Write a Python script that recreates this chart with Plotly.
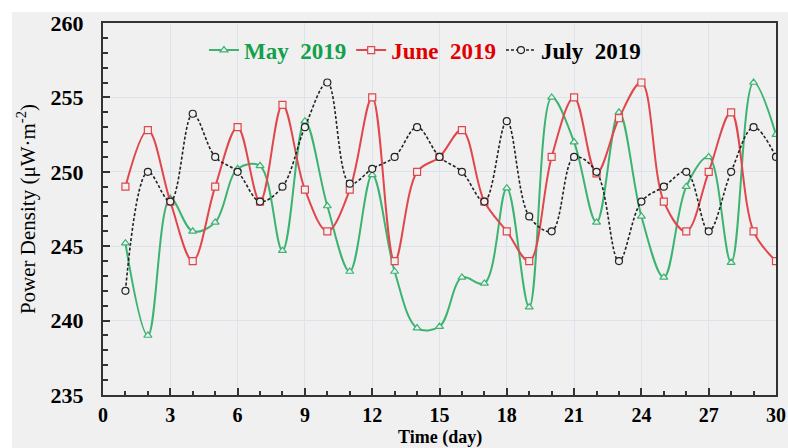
import plotly.graph_objects as go

# Daily power density readings for three months of 2019
days = list(range(1, 31))

may_2019 = [245.2, 239.0, 248.2, 246.0, 246.6, 250.2, 250.4, 244.7, 253.4, 247.7,
            243.3, 249.8, 243.3, 239.5, 239.6, 242.9, 242.5, 248.9, 240.9, 255.0,
            252.0, 246.6, 254.0, 247.0, 242.9, 249.0, 251.0, 243.9, 256.0, 252.5]

june_2019 = [249.0, 252.8, 248.0, 244.0, 249.0, 253.0, 248.0, 254.5, 248.8, 246.0,
             248.8, 255.0, 244.0, 250.0, 251.0, 252.8, 248.0, 246.0, 244.0, 251.0,
             255.0, 249.9, 253.6, 256.0, 248.0, 246.0, 250.0, 254.0, 246.0, 244.0]

july_2019 = [242.0, 250.0, 248.0, 253.9, 251.0, 250.0, 248.0, 249.0, 253.0, 256.0,
             249.2, 250.2, 251.0, 253.0, 251.0, 250.0, 248.0, 253.4, 247.0, 246.0,
             251.0, 250.0, 244.0, 248.0, 249.0, 250.0, 246.0, 250.0, 253.0, 251.0]

x_ticks = [0, 3, 6, 9, 12, 15, 18, 21, 24, 27, 30]
y_ticks = [235, 240, 245, 250, 255, 260]

BG = "#f0f0f0"
SERIF = "Liberation Serif, Times New Roman, serif"
NB = "\u00a0"

# plot area in pixels (figure is 788 x 448)
PL, PR, PT, PB = 103, 776, 23, 395
PW, PH = PR - PL, PB - PT

series = [
    ("May", may_2019, "#3cb371", "#12a04a", "triangle-up", "solid", 2),
    ("June", june_2019, "#e0474c", "#e00000", "square", "solid", 2),
    ("July", july_2019, "#222222", "#000000", "circle", "3px,2px", 1.6),
]

fig = go.Figure()
for month, values, line_color, text_color, symbol, dash, width in series:
    fig.add_trace(go.Scatter(
        x=days, y=values,
        mode="lines+markers",
        name=f"<span style='color:{text_color}'>{month}{NB}{NB}2019</span>",
        line=dict(color=line_color, width=width, dash=dash, shape="spline", smoothing=1.0),
        marker=dict(symbol=symbol, size=7, color=BG,
                    line=dict(color=line_color, width=1.2)),
    ))

# light grey panel with a thin white border on the top and left
fig.add_shape(type="rect", xref="paper", yref="paper",
              x0=(12 - PL) / PW, x1=(788 - PL) / PW,
              y0=-(448 - PB) / PH, y1=1 + (PT - 12) / PH,
              fillcolor=BG, line_width=0, layer="below")

# x-axis title sits low, right at the bottom edge
fig.add_annotation(text="<b>Time (day)</b>", xref="paper", yref="paper",
                   x=0.5, y=-(437.5 - PB) / PH, xanchor="center", yanchor="middle",
                   showarrow=False, font=dict(family=SERIF, size=18, color="#000000"))

fig.update_layout(
    width=788, height=448,
    margin=dict(l=PL, r=788 - PR, t=PT, b=448 - PB),
    paper_bgcolor="white",
    plot_bgcolor=BG,
    font=dict(family=SERIF, color="#000000"),
    showlegend=True,
    legend=dict(orientation="h", x=0.15, y=0.985, xanchor="left", yanchor="top",
                bgcolor="rgba(0,0,0,0)", font=dict(family=SERIF, size=23, weight="bold"),
                itemwidth=30, tracegroupgap=0),
    xaxis=dict(
        range=[0, 30], tickvals=x_ticks, ticktext=[str(v) for v in x_ticks],
        ticks="inside", ticklen=7, tickwidth=1.5, tickcolor="#333333",
        minor=dict(dtick=1, ticks="inside", ticklen=4, tickcolor="#333333", showgrid=False),
        showgrid=True, gridcolor="#dce3ea", gridwidth=1,
        showline=True, linecolor="#333333", linewidth=2, mirror=True,
        tickfont=dict(family=SERIF, size=20, weight="bold"),
        ticklabelstandoff=1,
        zeroline=False, automargin=False,
    ),
    yaxis=dict(
        range=[235, 260], tickvals=y_ticks, ticktext=[str(v) for v in y_ticks],
        ticks="inside", ticklen=7, tickwidth=1.5, tickcolor="#333333",
        minor=dict(dtick=1, ticks="inside", ticklen=5, tickcolor="#333333", showgrid=False),
        showgrid=True, gridcolor="#dce3ea", gridwidth=1,
        showline=True, linecolor="#333333", linewidth=2, mirror=True,
        tickfont=dict(family=SERIF, size=22, weight="bold"),
        ticklabelstandoff=13,
        title=dict(text="Power Density (μW·m<sup>-2</sup>)", font=dict(family=SERIF, size=21),
                   standoff=9),
        zeroline=False, automargin=False,
    ),
)

fig.write_html("out.html")
